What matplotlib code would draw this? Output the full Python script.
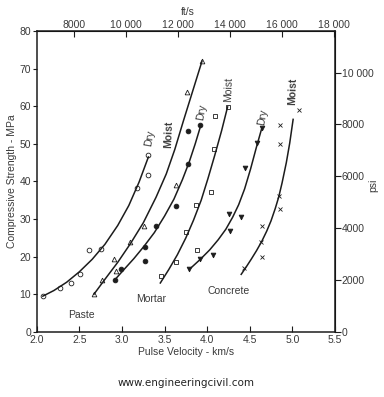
"""Compressive strength vs pulse velocity for paste, mortar and concrete."""

import matplotlib

matplotlib.use("Agg")
import matplotlib.pyplot as plt

plt.rcParams["font.family"] = ["Liberation Sans", "DejaVu Sans"]

INK = "#1c1c1c"
TXT = "#3a3a3a"

# --- measured points (km/s, MPa) ---
paste_v = [2.07, 2.27, 2.40, 2.51, 2.61, 2.75, 3.18, 3.30, 3.31]
paste_s = [9.5, 11.7, 13.0, 15.3, 21.8, 22.1, 38.2, 41.7, 47.1]

mortar_moist_v = [2.67, 2.76, 2.91, 2.93, 3.09, 3.26, 3.63, 3.76, 3.94]
mortar_moist_s = [10.0, 13.7, 19.5, 16.2, 23.8, 28.1, 39.1, 63.9, 72.0]

mortar_dry_v = [2.92, 2.99, 3.27, 3.27, 3.40, 3.63, 3.78, 3.78, 3.92]
mortar_dry_s = [13.8, 16.7, 22.7, 18.8, 28.2, 33.6, 44.7, 53.3, 54.9]

conc_moist_v = [3.46, 3.63, 3.75, 3.88, 3.87, 4.04, 4.08, 4.09, 4.24]
conc_moist_s = [14.9, 18.7, 26.6, 21.8, 33.8, 37.3, 48.6, 57.5, 59.8]

conc_dry_v = [3.79, 3.92, 4.07, 4.27, 4.26, 4.40, 4.44, 4.58, 4.64]
conc_dry_s = [16.6, 19.5, 20.4, 26.8, 31.3, 30.6, 43.6, 50.3, 54.1]

conc2_moist_v = [4.43, 4.64, 4.63, 4.64, 4.85, 4.84, 4.86, 4.85, 5.08]
conc2_moist_s = [17.0, 20.0, 23.8, 28.2, 32.7, 36.2, 49.9, 55.0, 58.9]

# --- fitted curves ---
paste_cv = [2.07, 2.20, 2.35, 2.50, 2.65, 2.80, 2.95, 3.08, 3.20, 3.31]
paste_cs = [9.5, 11.0, 13.2, 16.0, 19.3, 23.3, 28.3, 33.6, 39.8, 46.5]

mortar_moist_cv = [2.67, 2.80, 2.95, 3.10, 3.25, 3.40, 3.52, 3.62, 3.72,
                   3.83, 3.94]
mortar_moist_cs = [10.0, 14.0, 18.5, 23.5, 29.0, 35.8, 42.0, 48.5, 56.0,
                   64.0, 72.0]

mortar_dry_cv = [2.91, 3.02, 3.14, 3.26, 3.38, 3.50, 3.61, 3.71, 3.79,
                 3.86, 3.92]
mortar_dry_cs = [13.7, 16.5, 19.5, 22.8, 26.4, 30.8, 35.3, 40.5, 45.2,
                 50.0, 54.5]

conc_moist_cv = [3.45, 3.55, 3.65, 3.75, 3.84, 3.93, 4.01, 4.09, 4.17, 4.24]
conc_moist_cs = [13.0, 16.6, 20.5, 25.0, 29.7, 35.0, 40.8, 47.0, 53.5, 59.8]

conc_dry_cv = [3.79, 3.92, 4.03, 4.13, 4.22, 4.30, 4.37, 4.44, 4.51, 4.58,
               4.64]
conc_dry_cs = [16.6, 19.3, 21.8, 24.5, 27.3, 30.5, 33.8, 38.0, 43.3, 49.2,
               54.0]

conc2_moist_cv = [4.40, 4.46, 4.52, 4.58, 4.64, 4.70, 4.75, 4.80, 4.84,
                  4.88, 4.93, 4.97, 5.01]
conc2_moist_cs = [15.3, 17.3, 19.4, 21.6, 24.0, 26.8, 29.5, 32.8, 35.8,
                  39.6, 45.0, 50.2, 56.5]

x_ticks = [2.0, 2.5, 3.0, 3.5, 4.0, 4.5, 5.0, 5.5]
y_ticks = [0, 10, 20, 30, 40, 50, 60, 70, 80]
fts_ticks = [8000, 10000, 12000, 14000, 16000, 18000]
fts_labels = ["8000", "10 000", "12 000", "14 000", "16 000", "18 000"]
psi_ticks = [0, 2000, 4000, 6000, 8000, 10000]
psi_labels = ["0", "2000", "4000", "6000", "8000", "10 000"]

KM_TO_FT = 3280.84
MPA_TO_PSI = 145.038

fig = plt.figure(figsize=(3.84, 3.97), dpi=100)
ax = fig.add_axes([0.096, 0.164, 0.776, 0.758])

mk = dict(color=INK, linestyle="none", markersize=3.4, markeredgewidth=0.6)
ax.plot(paste_v, paste_s, marker="o", markerfacecolor="white", **mk)
ax.plot(mortar_moist_v, mortar_moist_s, marker="^", markerfacecolor="white", **mk)
ax.plot(mortar_dry_v, mortar_dry_s, marker="o", markerfacecolor=INK, **mk)
ax.plot(conc_moist_v, conc_moist_s, marker="s", markerfacecolor="white", **mk)
ax.plot(conc_dry_v, conc_dry_s, marker="v", markerfacecolor=INK, **mk)
ax.plot(conc2_moist_v, conc2_moist_s, marker="x", **mk)

for cv, cs in [
    (paste_cv, paste_cs),
    (mortar_moist_cv, mortar_moist_cs),
    (mortar_dry_cv, mortar_dry_cs),
    (conc_moist_cv, conc_moist_cs),
    (conc_dry_cv, conc_dry_cs),
    (conc2_moist_cv, conc2_moist_cs),
]:
    ax.plot(cv, cs, color=INK, linewidth=1.1, solid_joinstyle="round")

ax.set_xlim(2.0, 5.5)
ax.set_ylim(0, 80)
ax.set_xticks(x_ticks)
ax.set_xticklabels([f"{v:.1f}" for v in x_ticks])
ax.set_yticks(y_ticks)
ax.tick_params(axis="x", direction="in", length=4, width=0.8, labelsize=7.5,
               colors=INK, labelcolor=TXT, pad=2)
ax.tick_params(axis="y", direction="out", length=3, width=0.8, labelsize=7.5,
               colors=INK, labelcolor=TXT, pad=1)
for sp in ax.spines.values():
    sp.set_linewidth(1.1)
    sp.set_color(INK)
ax.set_xlabel("Pulse Velocity - km/s", fontsize=7.5, color=TXT, labelpad=2)
ax.set_ylabel("Compressive Strength - MPa", fontsize=7.5, color=TXT, labelpad=2)

top = ax.secondary_xaxis(
    "top", functions=(lambda v: v * KM_TO_FT, lambda f: f / KM_TO_FT)
)
top.set_xticks(fts_ticks)
top.set_xticklabels(fts_labels)
top.tick_params(direction="in", length=4, width=0.8, labelsize=7.5,
                colors=INK, labelcolor=TXT, pad=1)

right = ax.secondary_yaxis(
    "right", functions=(lambda m: m * MPA_TO_PSI, lambda p: p / MPA_TO_PSI)
)
right.set_yticks(psi_ticks)
right.set_yticklabels(psi_labels)
right.tick_params(direction="out", length=4, width=0.8, labelsize=7.5,
                  colors=INK, labelcolor=TXT, pad=1)

fig.text(188 / 384, 1 - 12 / 397, "ft/s", fontsize=7.5, color=TXT,
         ha="center", va="center")
fig.text(373 / 384, 1 - 185 / 397, "psi", fontsize=7.5, color=TXT,
         rotation=90, ha="center", va="center")

# curve labels
lab = dict(fontsize=7.5, color=TXT, ha="center", va="center")
ax.text(3.32, 51.5, "Dry", rotation=80, **lab)
ax.text(3.55, 52.5, "Moist", rotation=88, fontweight="bold", **lab)
ax.text(3.93, 58.5, "Dry", rotation=80, **lab)
ax.text(4.25, 64.5, "Moist", rotation=88, **lab)
ax.text(4.65, 57.0, "Dry", rotation=80, **lab)
ax.text(5.01, 64.0, "Moist", rotation=88, fontweight="bold", **lab)
ax.text(2.52, 4.5, "Paste", **lab)
ax.text(3.34, 8.7, "Mortar", **lab)
ax.text(4.25, 10.8, "Concrete", **lab)

fig.text(0.485, 1 - 383 / 397, "www.engineeringcivil.com", fontsize=7.5,
         family="DejaVu Sans", color="#222222", ha="center", va="center")

fig.savefig("out.png", dpi=100)
plt.close(fig)
